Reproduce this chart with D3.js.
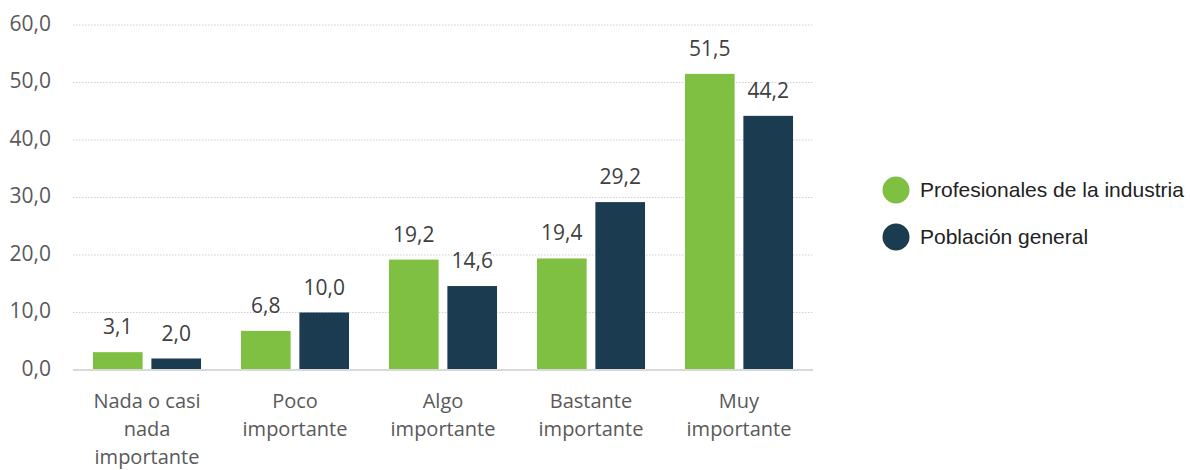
<!DOCTYPE html>
<html><head><meta charset="utf-8">
<script src="https://cdn.jsdelivr.net/npm/d3@7"></script>
<style>body{margin:0;background:#fff}svg{display:block}</style>
</head><body>
<script>
const categories = [["Nada o casi","nada","importante"],["Poco","importante"],["Algo","importante"],["Bastante","importante"],["Muy","importante"]];
const catKeys = ["Nada o casi nada importante","Poco importante","Algo importante","Bastante importante","Muy importante"];
const seriesNames = ["Profesionales de la industria","Población general"];
const profesionales = [3.1, 6.8, 19.2, 19.4, 51.5];
const poblacion = [2.0, 10.0, 14.6, 29.2, 44.2];
const yTicks = [0,10,20,30,40,50,60];
const colors = ["#7fbf42","#1b3b50"];

const W=1190,H=470;
const svg=d3.select("body").append("svg").attr("width",W).attr("height",H);
const x0=73,x1=813,yb=370,yt=25;
const x=d3.scaleBand().domain(catKeys).range([x0,x1]).paddingInner(0.27).paddingOuter(0.135);
const xs=d3.scaleBand().domain([0,1]).range([0,x.bandwidth()]).paddingInner(0.15);
const y=d3.scaleLinear().domain([0,60]).range([yb,yt]);
const fmt=v=>d3.format(".1f")(v).replace(".",",");
const font="'Open Sans', sans-serif";
const fs=21;

// gridlines
svg.append("g").selectAll("line").data(yTicks.filter(d=>d>0)).join("line")
 .attr("x1",x0).attr("x2",x1).attr("y1",d=>y(d)).attr("y2",d=>y(d))
 .attr("stroke","#cfcfcf").attr("stroke-width",1).attr("stroke-dasharray","1.5,1.5");
// y labels
const yAxis=d3.axisLeft(y).tickValues(yTicks).tickFormat(fmt).tickSize(0).tickPadding(0);
const ga=svg.append("g").attr("transform",`translate(51,0)`).call(yAxis);
ga.select(".domain").remove();
ga.selectAll("text").attr("font-family",font).attr("font-size",fs).attr("fill","#595959").attr("dy","0.25em");

const data=[profesionales,poblacion];
data.forEach((arr,si)=>{
 const g=svg.append("g");
 g.selectAll("rect").data(arr).join("rect")
  .attr("x",(d,i)=>x(catKeys[i])+xs(si)).attr("width",xs.bandwidth())
  .attr("y",d=>y(d)).attr("height",d=>yb-y(d)).attr("fill",colors[si]);
 g.selectAll("text").data(arr).join("text")
  .attr("x",(d,i)=>x(catKeys[i])+xs(si)+xs.bandwidth()/2).attr("y",d=>y(d)-18)
  .attr("text-anchor","middle").attr("font-family",font).attr("font-size",fs).attr("fill","#404040")
  .text(fmt);
});
// baseline
svg.append("line").attr("x1",x0).attr("x2",x1).attr("y1",yb).attr("y2",yb).attr("stroke","#d9d9d9").attr("stroke-width",2);

// x labels
categories.forEach((lines,i)=>{
 const t=svg.append("text").attr("text-anchor","middle").attr("font-family",font).attr("font-size",20).attr("fill","#595959");
 lines.forEach((l,j)=>t.append("tspan").attr("x",x(catKeys[i])+x.bandwidth()/2).attr("y",408+j*28).text(l));
});

// legend
const lg=svg.append("g");
seriesNames.forEach((n,i)=>{
 lg.append("circle").attr("cx",896).attr("cy",190+i*47).attr("r",13.5).attr("fill",colors[i]);
 lg.append("text").attr("x",920).attr("y",197+i*47).attr("font-family","'Liberation Sans', Arial, sans-serif").attr("font-size",21).attr("fill","#222").text(n);
});
</script>
</body></html>
